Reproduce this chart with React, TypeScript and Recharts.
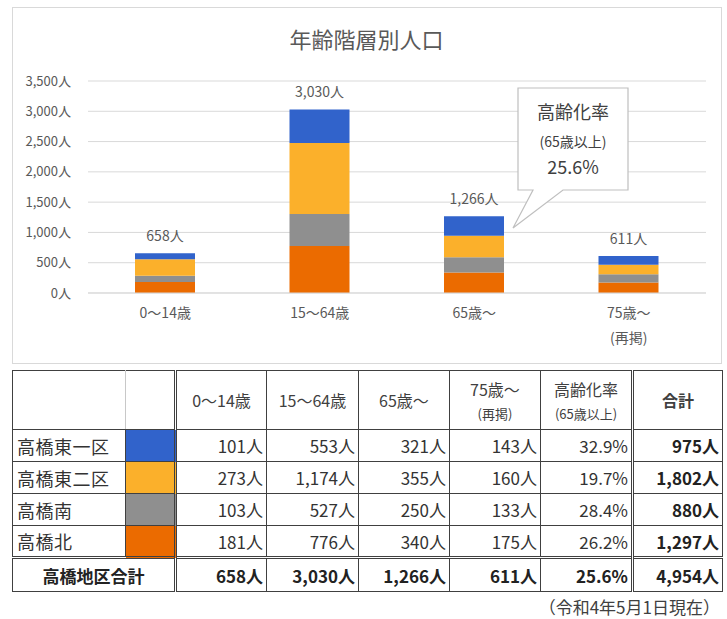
import React from "react";
import { BarChart, Bar, XAxis, YAxis, CartesianGrid, LabelList } from "recharts";

const FONT = '"Noto Sans CJK JP", "Noto Sans", sans-serif';

// categories (age groups) and districts
const categories = ["0〜14歳", "15〜64歳", "65歳〜", "75歳〜\n(再掲)"];
const districts = ["高橋東一区", "高橋東二区", "高橋南", "高橋北"];

// population per district, by age group
const higashi1 = [101, 553, 321, 143];
const higashi2 = [273, 1174, 355, 160];
const minami = [103, 527, 250, 133];
const kita = [181, 776, 340, 175];

const agingRates = ["32.9%", "19.7%", "28.4%", "26.2%"];
const districtTotals = [975, 1802, 880, 1297];
const overallRate = "25.6%";
const grandTotal = 4954;

const yTicks = [0, 500, 1000, 1500, 2000, 2500, 3000, 3500];
const colors = ["#3163CB", "#FBB02B", "#8F8F8F", "#EB6B00"];

const series = [higashi1, higashi2, minami, kita];

const data = categories.map((c, i) => ({
  name: c,
  higashi1: higashi1[i],
  higashi2: higashi2[i],
  minami: minami[i],
  kita: kita[i],
  total: higashi1[i] + higashi2[i] + minami[i] + kita[i],
}));

const fmt = (v: number) => v.toLocaleString("en-US") + "人";

function CategoryTick(props: any) {
  const { x, y, payload } = props;
  const lines = String(payload.value).split("\n");
  return (
    <g>
      {lines.map((l, i) => (
        <text
          key={i}
          x={x}
          y={y}
          dy={25 + i * 25}
          textAnchor="middle"
          fill="#595959"
          fontSize={14}
          fontFamily={FONT}
        >
          {l}
        </text>
      ))}
    </g>
  );
}

const line = "1px solid #404040";
const dbl = "3px double #404040";

const cell: React.CSSProperties = {
  border: line,
  padding: "0 3px",
  fontSize: 17,
  color: "#333",
  textAlign: "right",
  whiteSpace: "nowrap",
};

function HeaderCell({ main, sub, bold, style }: { main: string; sub?: string; bold?: boolean; style?: React.CSSProperties }) {
  return (
    <td style={{ ...cell, textAlign: "center", fontSize: 16, color: "#404040", fontWeight: bold ? 700 : 400, ...style }}>
      <div style={{ lineHeight: "28px" }}>{main}</div>
      {sub && <div style={{ lineHeight: "22px", fontSize: 13 }}>{sub}</div>}
    </td>
  );
}

export default function App() {
  return (
    <div style={{ position: "absolute", left: 0, top: 0, width: 727, height: 619, fontFamily: FONT, background: "#fff" }}>
      <div
        style={{
          position: "absolute",
          left: 12,
          top: 7,
          width: 710,
          height: 357,
          border: "1px solid #d9d9d9",
          boxSizing: "border-box",
        }}
      />
      <div
        style={{
          position: "absolute",
          left: 0,
          top: 24,
          width: 733,
          textAlign: "center",
          fontSize: 22,
          lineHeight: "28px",
          color: "#595959",
        }}
      >
        年齢階層別人口
      </div>
      <div style={{ position: "absolute", left: 0, top: 0 }}>
        <BarChart width={727} height={370} data={data} margin={{ top: 81, right: 21, left: 12, bottom: 37 }}>
          <CartesianGrid vertical={false} stroke="#d9d9d9" />
          <XAxis
            dataKey="name"
            axisLine={{ stroke: "#d9d9d9" }}
            tickLine={false}
            tickSize={0}
            tickMargin={0}
            height={40}
            interval={0}
            tick={<CategoryTick />}
          />
          <YAxis
            width={76}
            domain={[0, 3500]}
            ticks={yTicks}
            axisLine={false}
            tickLine={false}
            tickSize={0}
            tickMargin={17}
            tickFormatter={fmt}
            tick={{ fill: "#595959", fontSize: 13, fontFamily: FONT }}
          />
          <Bar dataKey="kita" stackId="a" fill={colors[3]} barSize={60} isAnimationActive={false} />
          <Bar dataKey="minami" stackId="a" fill={colors[2]} barSize={60} isAnimationActive={false} />
          <Bar dataKey="higashi2" stackId="a" fill={colors[1]} barSize={60} isAnimationActive={false} />
          <Bar dataKey="higashi1" stackId="a" fill={colors[0]} barSize={60} isAnimationActive={false}>
            <LabelList
              dataKey="total"
              position="top"
              offset={12}
              formatter={(v: any) => fmt(Number(v))}
              fill="#595959"
              fontSize={14}
              fontFamily={FONT}
            />
          </Bar>
        </BarChart>
      </div>

      {/* callout */}
      <svg width={727} height={370} style={{ position: "absolute", left: 0, top: 0, pointerEvents: "none" }}>
        <path
          d="M518,88 H628 V190 H563 L513,228 L533,190 H518 Z"
          fill="#fff"
          stroke="#bfbfbf"
          strokeWidth={1.2}
        />
        <text x={573} y={119} textAnchor="middle" fontSize={18} fill="#404040" fontFamily={FONT}>
          高齢化率
        </text>
        <text x={573} y={147} textAnchor="middle" fontSize={14} fill="#404040" fontFamily={FONT}>
          (65歳以上)
        </text>
        <text x={573} y={174} textAnchor="middle" fontSize={18} fill="#404040" fontFamily={FONT}>
          {overallRate}
        </text>
      </svg>

      <table
        style={{
          position: "absolute",
          left: 12,
          top: 370,
          width: 710,
          borderCollapse: "collapse",
          tableLayout: "fixed",
          fontFamily: FONT,
        }}
      >
        <colgroup>
          <col style={{ width: 113 }} />
          <col style={{ width: 50 }} />
          <col style={{ width: 91 }} />
          <col style={{ width: 92 }} />
          <col style={{ width: 91 }} />
          <col style={{ width: 91 }} />
          <col style={{ width: 92 }} />
          <col style={{ width: 90 }} />
        </colgroup>
        <tbody>
          <tr style={{ height: 59 }}>
            <td style={{ ...cell, borderRight: "1px solid #c8c8c8" }} />
            <td style={{ ...cell, borderLeft: "1px solid #c8c8c8", borderRight: dbl }} />
            <HeaderCell main={categories[0]} style={{ borderLeft: dbl }} />
            <HeaderCell main={categories[1]} />
            <HeaderCell main={categories[2]} />
            <HeaderCell main="75歳〜" sub="(再掲)" />
            <HeaderCell main="高齢化率" sub="(65歳以上)" style={{ borderRight: dbl }} />
            <HeaderCell main="合計" bold style={{ borderLeft: dbl }} />
          </tr>
          {districts.map((d, i) => (
            <tr key={d} style={{ height: 32 }}>
              <td style={{ ...cell, textAlign: "left", padding: "0 4px", fontSize: 18, letterSpacing: 0.5 }}>{d}</td>
              <td style={{ ...cell, background: colors[i], borderRight: dbl }} />
              {series[i].map((v, j) => (
                <td key={j} style={{ ...cell, borderLeft: j === 0 ? dbl : line }}>
                  {fmt(v)}
                </td>
              ))}
              <td style={{ ...cell, borderRight: dbl }}>{agingRates[i]}</td>
              <td style={{ ...cell, borderLeft: dbl, fontWeight: 700, color: "#222" }}>{fmt(districtTotals[i])}</td>
            </tr>
          ))}
          <tr style={{ height: 34 }}>
            <td colSpan={2} style={{ ...cell, textAlign: "center", fontWeight: 700, color: "#222", borderTop: dbl, borderRight: dbl }}>
              高橋地区合計
            </td>
            {data.map((r, j) => (
              <td key={j} style={{ ...cell, fontWeight: 700, color: "#222", borderTop: dbl, borderLeft: j === 0 ? dbl : line }}>
                {fmt(r.total)}
              </td>
            ))}
            <td style={{ ...cell, fontWeight: 700, color: "#222", borderTop: dbl, borderRight: dbl }}>{overallRate}</td>
            <td style={{ ...cell, fontWeight: 700, color: "#222", borderTop: dbl, borderLeft: dbl }}>{fmt(grandTotal)}</td>
          </tr>
        </tbody>
      </table>

      <div
        style={{
          position: "absolute",
          left: 0,
          top: 596,
          width: 720,
          textAlign: "right",
          fontSize: 17,
          lineHeight: "22px",
          color: "#404040",
        }}
      >
        （令和4年5月1日現在）
      </div>
    </div>
  );
}
